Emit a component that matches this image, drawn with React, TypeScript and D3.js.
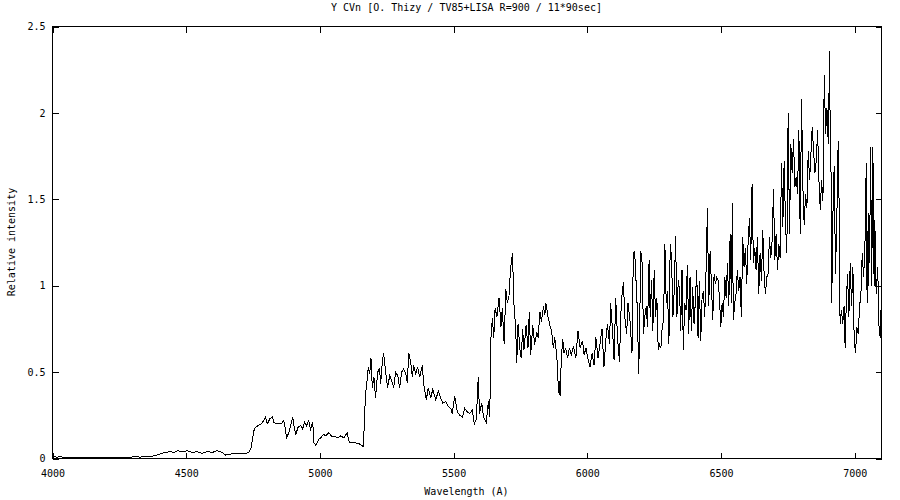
import React, { useEffect, useRef } from 'react';
import * as d3 from 'd3';

const TITLE = 'Y CVn [O. Thizy / TV85+LISA R=900 / 11*90sec]';
const X_LABEL = 'Wavelength (A)';
const Y_LABEL = 'Relative intensity';

const X_TICKS = [4000, 4500, 5000, 5500, 6000, 6500, 7000];
const Y_TICKS = [0, 0.5, 1, 1.5, 2, 2.5];

// wavelength (A), relative intensity
const SPECTRUM: [number, number][] = [
  [4000, 0.012], [4015, 0.008], [4030, 0.01], [4050, 0.006], [4080, 0.008],
  [4110, 0.005], [4140, 0.007], [4170, 0.005], [4200, 0.006], [4230, 0.008],
  [4260, 0.006], [4290, 0.008], [4310, 0.01], [4329, 0.008], [4345, 0.012],
  [4367, 0.012], [4392, 0.02], [4407, 0.03], [4423, 0.035], [4441, 0.04],
  [4453, 0.035], [4468, 0.045], [4485, 0.04], [4504, 0.045], [4523, 0.035],
  [4541, 0.04], [4560, 0.03], [4579, 0.04], [4597, 0.035], [4616, 0.045],
  [4635, 0.035], [4647, 0.02], [4660, 0.025], [4691, 0.03], [4722, 0.03],
  [4734, 0.035], [4743, 0.065], [4753, 0.16], [4759, 0.18], [4768, 0.19],
  [4781, 0.2], [4790, 0.22], [4797, 0.24], [4803, 0.2], [4813, 0.23],
  [4822, 0.24], [4828, 0.21], [4838, 0.2], [4847, 0.2], [4856, 0.2],
  [4863, 0.22], [4868, 0.2], [4875, 0.12], [4884, 0.15], [4890, 0.19],
  [4898, 0.24], [4905, 0.17], [4910, 0.14], [4918, 0.18], [4928, 0.19],
  [4935, 0.17], [4943, 0.21], [4950, 0.19], [4958, 0.22], [4965, 0.17],
  [4973, 0.21], [4978, 0.09], [4985, 0.075], [4995, 0.11], [5003, 0.12],
  [5013, 0.14], [5022, 0.13], [5033, 0.15], [5043, 0.13], [5052, 0.13],
  [5065, 0.12], [5077, 0.13], [5090, 0.12], [5102, 0.15], [5110, 0.09],
  [5122, 0.09], [5135, 0.09], [5147, 0.085], [5162, 0.07], [5165, 0.16],
  [5170, 0.36], [5177, 0.46], [5181, 0.53], [5186, 0.49], [5191, 0.58],
  [5196, 0.41], [5202, 0.47], [5208, 0.35], [5216, 0.5], [5223, 0.52],
  [5227, 0.43], [5233, 0.55], [5238, 0.61], [5246, 0.5], [5253, 0.41],
  [5261, 0.48], [5268, 0.45], [5276, 0.41], [5283, 0.5], [5291, 0.48],
  [5298, 0.41], [5306, 0.5], [5313, 0.52], [5321, 0.49], [5327, 0.44],
  [5332, 0.61], [5339, 0.56], [5346, 0.47], [5350, 0.54], [5358, 0.49],
  [5365, 0.53], [5373, 0.47], [5383, 0.54], [5388, 0.43], [5398, 0.34],
  [5405, 0.41], [5414, 0.35], [5422, 0.4], [5433, 0.34], [5443, 0.39],
  [5452, 0.35], [5459, 0.32], [5470, 0.33], [5480, 0.3], [5489, 0.29],
  [5495, 0.26], [5504, 0.36], [5514, 0.27], [5523, 0.25], [5533, 0.24],
  [5541, 0.29], [5551, 0.27], [5560, 0.26], [5570, 0.28], [5577, 0.2],
  [5585, 0.23], [5592, 0.47], [5597, 0.26], [5605, 0.32], [5612, 0.24],
  [5622, 0.21], [5630, 0.33], [5635, 0.24], [5640, 0.72], [5645, 0.81],
  [5650, 0.7], [5655, 0.87], [5662, 0.82], [5670, 0.93], [5677, 0.76],
  [5682, 0.87], [5689, 0.66], [5695, 0.98], [5701, 0.9], [5707, 0.94],
  [5713, 1.1], [5720, 1.19], [5726, 0.88], [5732, 0.76], [5736, 0.55],
  [5741, 0.78], [5748, 0.63], [5753, 0.58], [5758, 0.75], [5763, 0.63],
  [5771, 0.77], [5778, 0.64], [5783, 0.85], [5788, 0.6], [5796, 0.77],
  [5803, 0.66], [5811, 0.73], [5816, 0.7], [5823, 0.85], [5828, 0.79],
  [5836, 0.88], [5841, 0.83], [5845, 0.9], [5853, 0.82], [5860, 0.77],
  [5866, 0.74], [5873, 0.64], [5878, 0.7], [5883, 0.63], [5888, 0.55],
  [5892, 0.38], [5896, 0.45], [5898, 0.36], [5903, 0.59], [5908, 0.69],
  [5913, 0.61], [5919, 0.64], [5926, 0.58], [5933, 0.64], [5940, 0.6],
  [5948, 0.65], [5957, 0.58], [5965, 0.74], [5973, 0.64], [5982, 0.68],
  [5988, 0.6], [5995, 0.64], [6003, 0.57], [6010, 0.53], [6018, 0.61],
  [6025, 0.54], [6032, 0.7], [6040, 0.58], [6047, 0.66], [6055, 0.75],
  [6062, 0.53], [6070, 0.7], [6075, 0.78], [6083, 0.66], [6087, 0.9],
  [6095, 0.72], [6100, 0.57], [6106, 0.93], [6113, 0.7], [6120, 0.56],
  [6127, 0.91], [6135, 1.02], [6140, 0.82], [6147, 0.72], [6152, 0.9],
  [6160, 0.79], [6167, 0.61], [6172, 1.19], [6177, 1.2], [6182, 1.03],
  [6187, 0.86], [6192, 0.49], [6195, 0.7], [6200, 1.2], [6205, 1.13],
  [6210, 0.72], [6215, 0.82], [6220, 0.88], [6225, 0.76], [6231, 1.15],
  [6235, 0.82], [6240, 1.03], [6245, 0.74], [6250, 1.09], [6255, 0.82],
  [6260, 0.93], [6265, 0.63], [6270, 0.66], [6275, 0.64], [6280, 0.76],
  [6285, 0.8], [6290, 1.24], [6295, 0.9], [6300, 0.97], [6305, 0.66],
  [6310, 1.24], [6315, 1.16], [6320, 0.82], [6325, 0.97], [6330, 1.29],
  [6335, 0.82], [6340, 1.03], [6345, 0.97], [6349, 0.74], [6354, 1.09],
  [6359, 0.63], [6364, 0.9], [6369, 0.86], [6374, 1.12], [6379, 0.72],
  [6384, 1.05], [6389, 0.74], [6394, 0.99], [6399, 0.78], [6404, 0.91],
  [6409, 1.09], [6414, 0.7], [6419, 1.03], [6424, 0.68], [6429, 0.93],
  [6434, 0.97], [6439, 0.82], [6444, 1.09], [6449, 1.45], [6454, 0.88],
  [6459, 1.2], [6464, 1.01], [6469, 0.8], [6474, 1.07], [6479, 1.01],
  [6484, 1.05], [6489, 1.03], [6494, 0.93], [6499, 0.76], [6504, 0.9],
  [6509, 0.82], [6514, 1.05], [6519, 0.93], [6524, 1.13], [6529, 0.88],
  [6534, 1.3], [6539, 0.9], [6542, 1.48], [6546, 0.8], [6551, 0.9],
  [6556, 0.95], [6561, 1.09], [6566, 0.97], [6571, 1.05], [6576, 0.82],
  [6581, 1.28], [6586, 1.11], [6591, 1.22], [6596, 1.01], [6601, 1.24],
  [6606, 1.39], [6611, 1.15], [6616, 1.59], [6621, 1.13], [6626, 1.22],
  [6631, 1.09], [6636, 1.28], [6641, 0.95], [6646, 1.19], [6651, 1.03],
  [6656, 1.32], [6661, 1.07], [6666, 0.95], [6671, 1.05], [6676, 1.07],
  [6681, 1.28], [6686, 1.16], [6691, 1.26], [6696, 1.56], [6701, 1.15],
  [6706, 1.3], [6711, 1.09], [6716, 1.24], [6721, 1.16], [6726, 1.71],
  [6731, 1.34], [6736, 1.72], [6741, 1.36], [6746, 1.19], [6751, 2.0],
  [6756, 1.3], [6761, 1.82], [6766, 1.65], [6771, 1.85], [6776, 1.57],
  [6781, 1.63], [6786, 1.53], [6791, 1.9], [6796, 1.3], [6801, 2.08],
  [6806, 1.57], [6811, 1.35], [6816, 1.53], [6821, 1.45], [6826, 1.78],
  [6831, 1.61], [6836, 1.76], [6841, 1.92], [6846, 1.78], [6851, 1.65],
  [6856, 1.72], [6861, 1.9], [6866, 1.61], [6871, 1.44], [6876, 1.61],
  [6881, 1.49], [6886, 2.22], [6891, 1.88], [6896, 2.03], [6901, 1.82],
  [6906, 2.36], [6908, 1.9], [6911, 1.71], [6914, 0.9], [6918, 1.39],
  [6923, 1.69], [6928, 1.07], [6933, 1.39], [6938, 1.84], [6943, 1.32],
  [6945, 0.78], [6950, 0.86], [6955, 0.78], [6960, 0.88], [6964, 0.64],
  [6968, 0.88], [6973, 1.07], [6978, 0.82], [6983, 1.13], [6988, 0.88],
  [6993, 1.11], [6998, 0.68], [7003, 0.61], [7008, 0.76], [7013, 0.72],
  [7018, 0.88], [7023, 0.95], [7028, 1.19], [7033, 1.05], [7038, 1.22],
  [7043, 1.71], [7045, 1.0], [7048, 0.9], [7050, 1.42], [7052, 1.0],
  [7055, 1.3], [7057, 1.4], [7060, 1.8], [7062, 1.0], [7065, 1.26],
  [7068, 1.8], [7070, 1.07], [7072, 1.35], [7073, 1.0], [7075, 1.38],
  [7080, 0.95], [7086, 1.11], [7090, 0.78], [7095, 0.7], [7100, 0.95],
];

const FONT = '"DejaVu Sans Mono", monospace';

function Spectrum() {
  const svgRef = useRef<SVGSVGElement>(null);
  const width = 900;
  const height = 500;

  useEffect(() => {
    if (!svgRef.current) return;
    const svg = d3.select(svgRef.current);
    svg.selectAll('*').remove();

    const margin = { top: 26, right: 19, bottom: 42, left: 52 };
    const innerWidth = width - margin.left - margin.right;
    const innerHeight = height - margin.top - margin.bottom;

    const x = d3.scaleLinear().domain([4000, 7100]).range([0, innerWidth]);
    const y = d3.scaleLinear().domain([0, 2.5]).range([innerHeight, 0]);

    const g = svg
      .append('g')
      .attr('transform', `translate(${margin.left + 0.5},${margin.top + 0.5})`);

    const styleAxis = (sel: d3.Selection<SVGGElement, unknown, null, undefined>) => {
      sel.select('.domain').remove();
      sel.selectAll('line').attr('stroke', '#000').attr('shape-rendering', 'crispEdges');
      sel
        .selectAll('text')
        .attr('fill', '#000')
        .attr('font-family', FONT)
        .attr('font-size', '10px');
    };

    g.append('g')
      .attr('transform', `translate(0,${innerHeight})`)
      .call(d3.axisBottom(x).tickValues(X_TICKS).tickSizeInner(-6).tickSizeOuter(0).tickPadding(11).tickFormat(d3.format('d')))
      .call(styleAxis);

    g.append('g')
      .call(d3.axisTop(x).tickValues(X_TICKS).tickSizeInner(-6).tickSizeOuter(0).tickFormat(() => ''))
      .call(styleAxis);

    g.append('g')
      .call(d3.axisLeft(y).tickValues(Y_TICKS).tickSizeInner(-6).tickSizeOuter(0).tickPadding(7).tickFormat((d) => String(d)))
      .call(styleAxis);

    g.append('g')
      .attr('transform', `translate(${innerWidth},0)`)
      .call(d3.axisRight(y).tickValues(Y_TICKS).tickSizeInner(-6).tickSizeOuter(0).tickFormat(() => ''))
      .call(styleAxis);

    g.append('rect')
      .attr('x', 0)
      .attr('y', 0)
      .attr('width', innerWidth)
      .attr('height', innerHeight)
      .attr('fill', 'none')
      .attr('stroke', '#000')
      .attr('shape-rendering', 'crispEdges');

    const line = d3
      .line<[number, number]>()
      .x((d) => x(d[0]))
      .y((d) => y(d[1]));

    // gnuplot png look: aliased 1px black trace
    g.append('path')
      .attr('d', line(SPECTRUM))
      .attr('fill', 'none')
      .attr('stroke', '#000')
      .attr('stroke-width', 1)
      .attr('shape-rendering', 'crispEdges');

    svg
      .append('text')
      .attr('x', margin.left + innerWidth / 2)
      .attr('y', 11)
      .attr('text-anchor', 'middle')
      .attr('font-family', FONT)
      .attr('font-size', '10px')
      .text(TITLE);

    svg
      .append('text')
      .attr('x', margin.left + innerWidth / 2)
      .attr('y', 495)
      .attr('text-anchor', 'middle')
      .attr('font-family', FONT)
      .attr('font-size', '10px')
      .text(X_LABEL);

    svg
      .append('text')
      .attr('transform', `translate(15,${margin.top + innerHeight / 2}) rotate(-90)`)
      .attr('text-anchor', 'middle')
      .attr('font-family', FONT)
      .attr('font-size', '10px')
      .text(Y_LABEL);
  }, []);

  return <svg ref={svgRef} width={width} height={height} style={{ display: 'block', background: '#fff' }} />;
}

export default function App() {
  return (
    <div style={{ position: 'absolute', left: 0, top: 0 }}>
      <Spectrum />
    </div>
  );
}
